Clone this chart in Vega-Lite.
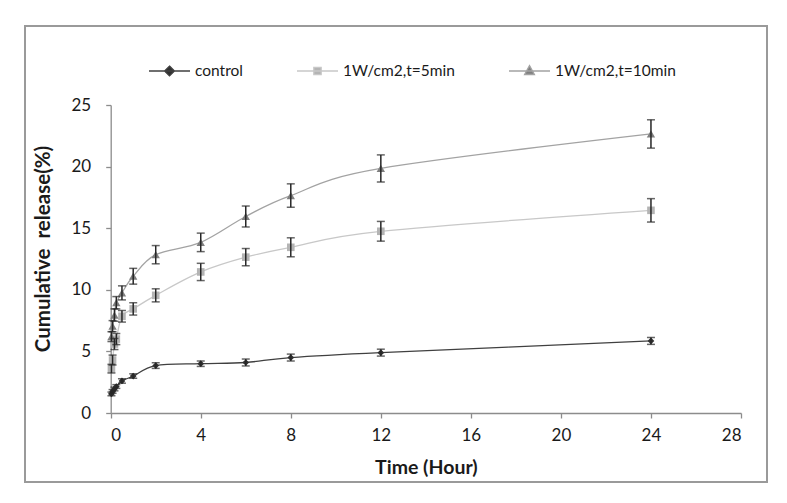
{
  "$schema": "https://vega.github.io/schema/vega-lite/v6.json",
  "width": 742,
  "height": 456,
  "autosize": {"type": "none"},
  "padding": {"left": 25, "top": 26, "right": 20, "bottom": 21},
  "background": "white",
  "config": {
    "view": {"stroke": "#9a9a9a", "strokeWidth": 2},
    "font": "Lato"
  },
  "data": {
    "values": [
      {"s": "control", "t": 0.033, "y": 1.55, "lo": 1.40, "hi": 1.70},
      {"s": "control", "t": 0.083, "y": 1.75, "lo": 1.60, "hi": 1.90},
      {"s": "control", "t": 0.167, "y": 1.95, "lo": 1.80, "hi": 2.10},
      {"s": "control", "t": 0.25, "y": 2.15, "lo": 2.00, "hi": 2.30},
      {"s": "control", "t": 0.5, "y": 2.6, "lo": 2.42, "hi": 2.78},
      {"s": "control", "t": 1, "y": 3.0, "lo": 2.82, "hi": 3.18},
      {"s": "control", "t": 2, "y": 3.85, "lo": 3.62, "hi": 4.08},
      {"s": "control", "t": 4, "y": 4.0, "lo": 3.78, "hi": 4.22},
      {"s": "control", "t": 6, "y": 4.1, "lo": 3.82, "hi": 4.38},
      {"s": "control", "t": 8, "y": 4.5, "lo": 4.22, "hi": 4.78},
      {"s": "control", "t": 12, "y": 4.9, "lo": 4.62, "hi": 5.18},
      {"s": "control", "t": 24, "y": 5.85, "lo": 5.57, "hi": 6.13},
      {"s": "1W/cm2,t=5min", "t": 0.033, "y": 3.6, "lo": 3.25, "hi": 3.95},
      {"s": "1W/cm2,t=5min", "t": 0.083, "y": 4.3, "lo": 3.9, "hi": 4.7},
      {"s": "1W/cm2,t=5min", "t": 0.167, "y": 5.6, "lo": 5.15, "hi": 6.05},
      {"s": "1W/cm2,t=5min", "t": 0.25, "y": 6.0, "lo": 5.55, "hi": 6.45},
      {"s": "1W/cm2,t=5min", "t": 0.5, "y": 7.85, "lo": 7.38, "hi": 8.32},
      {"s": "1W/cm2,t=5min", "t": 1, "y": 8.45, "lo": 7.95, "hi": 8.95},
      {"s": "1W/cm2,t=5min", "t": 2, "y": 9.55, "lo": 9.02, "hi": 10.08},
      {"s": "1W/cm2,t=5min", "t": 4, "y": 11.45, "lo": 10.75, "hi": 12.15},
      {"s": "1W/cm2,t=5min", "t": 6, "y": 12.65, "lo": 11.95, "hi": 13.35},
      {"s": "1W/cm2,t=5min", "t": 8, "y": 13.45, "lo": 12.68, "hi": 14.22},
      {"s": "1W/cm2,t=5min", "t": 12, "y": 14.75, "lo": 13.95, "hi": 15.55},
      {"s": "1W/cm2,t=5min", "t": 24, "y": 16.45, "lo": 15.5, "hi": 17.4},
      {"s": "1W/cm2,t=10min", "t": 0.033, "y": 6.2, "lo": 5.8, "hi": 6.6},
      {"s": "1W/cm2,t=10min", "t": 0.083, "y": 7.05, "lo": 6.6, "hi": 7.5},
      {"s": "1W/cm2,t=10min", "t": 0.167, "y": 7.95, "lo": 7.45, "hi": 8.45},
      {"s": "1W/cm2,t=10min", "t": 0.25, "y": 8.95, "lo": 8.45, "hi": 9.45},
      {"s": "1W/cm2,t=10min", "t": 0.5, "y": 9.75, "lo": 9.18, "hi": 10.32},
      {"s": "1W/cm2,t=10min", "t": 1, "y": 11.1, "lo": 10.46, "hi": 11.74},
      {"s": "1W/cm2,t=10min", "t": 2, "y": 12.85, "lo": 12.11, "hi": 13.59},
      {"s": "1W/cm2,t=10min", "t": 4, "y": 13.85, "lo": 13.1, "hi": 14.6},
      {"s": "1W/cm2,t=10min", "t": 6, "y": 15.95, "lo": 15.1, "hi": 16.8},
      {"s": "1W/cm2,t=10min", "t": 8, "y": 17.65, "lo": 16.7, "hi": 18.6},
      {"s": "1W/cm2,t=10min", "t": 12, "y": 19.85, "lo": 18.75, "hi": 20.95},
      {"s": "1W/cm2,t=10min", "t": 24, "y": 22.65, "lo": 21.5, "hi": 23.8}
    ]
  },
  "layer": [
    {
      "mark": {"type": "line", "interpolate": "cardinal", "tension": 0, "strokeWidth": 1.3},
      "encoding": {
        "x": {
          "field": "t", "type": "quantitative",
          "scale": {"domain": [0, 28], "range": [85.7, 716], "nice": false, "zero": false},
          "axis": {
            "values": [0, 4, 8, 12, 16, 20, 24, 28],
            "offset": -69,
            "grid": false,
            "tickSize": 5,
            "labelPadding": 9,
            "labelFontSize": 17,
            "labelColor": "#1a1a1a",
            "domainColor": "#8c8c8c",
            "domainWidth": 1.3,
            "tickColor": "#8c8c8c",
            "tickWidth": 1.3,
            "title": "Time (Hour)",
            "titleFontSize": 19.5,
            "titleFontWeight": "bold",
            "titleColor": "#1a1a1a",
            "titleBaseline": "middle",
            "titleY": 54
          }
        },
        "y": {
          "field": "y", "type": "quantitative",
          "title": "Cumulative\u00a0 release(%)",
          "scale": {"domain": [0, 25], "range": [387, 79], "nice": false, "zero": false},
          "axis": {
            "values": [0, 5, 10, 15, 20, 25],
            "offset": -85.7,
            "grid": false,
            "tickSize": 5,
            "labelPadding": 15,
            "labelFontSize": 17,
            "labelColor": "#1a1a1a",
            "domainColor": "#8c8c8c",
            "domainWidth": 1.3,
            "tickColor": "#8c8c8c",
            "tickWidth": 1.3,
            "title": "Cumulative\u00a0 release(%)",
            "titleFontSize": 20.5,
            "titleFontWeight": "bold",
            "titleColor": "#1a1a1a",
            "titleBaseline": "middle",
            "titleAlign": "center",
            "titleX": -67.7,
            "titleY": 222.5
          }
        },
        "color": {
          "field": "s", "type": "nominal",
          "scale": {"domain": ["control", "1W/cm2,t=5min", "1W/cm2,t=10min"], "range": ["#404040", "#c8c8c8", "#a3a3a3"]},
          "legend": {
            "orient": "none",
            "legendX": 123,
            "legendY": 23.5,
            "direction": "horizontal",
            "title": null,
            "padding": 0,
            "symbolSize": 1681,
            "symbolStrokeWidth": 1.3,
            "labelFontSize": 15.5,
            "labelColor": "#1a1a1a",
            "labelOffset": 4,
            "columnPadding": 51,
            "encode": {
              "symbols": {
                "update": {
                  "shape": {"signal": "datum.value === 'control' ? 'M-1,0H1M0,-0.24L0.24,0L0,0.24L-0.24,0Z' : datum.value === '1W/cm2,t=5min' ? 'M-1,0H1M-0.18,-0.18H0.18V0.18H-0.18Z' : 'M-1,0H1M0,-0.26L0.24,0.17L-0.24,0.17Z'"},
                  "fill": {"signal": "datum.value === 'control' ? '#303030' : datum.value === '1W/cm2,t=5min' ? '#b4b4b4' : '#7f7f7f'"},
                  "stroke": {"signal": "datum.value === 'control' ? '#404040' : datum.value === '1W/cm2,t=5min' ? '#c8c8c8' : '#a3a3a3'"},
                  "strokeWidth": {"value": 1.3},
                  "size": {"value": 1681},
                  "opacity": {"value": 1}
                }
              }
            }
          }
        }
      }
    },
    {
      "transform": [{"filter": "datum.s === 'control'"}],
      "mark": {"type": "point", "shape": "diamond", "filled": true, "opacity": 1, "color": "#303030", "size": 45},
      "encoding": {
        "x": {"field": "t", "type": "quantitative"},
        "y": {"field": "y", "type": "quantitative", "title": "Cumulative\u00a0 release(%)"}
      }
    },
    {
      "transform": [{"filter": "datum.s === '1W/cm2,t=5min'"}],
      "mark": {"type": "point", "shape": "square", "filled": true, "opacity": 1, "color": "#b4b4b4", "size": 58},
      "encoding": {
        "x": {"field": "t", "type": "quantitative"},
        "y": {"field": "y", "type": "quantitative", "title": "Cumulative\u00a0 release(%)"}
      }
    },
    {
      "transform": [{"filter": "datum.s === '1W/cm2,t=10min'"}],
      "mark": {"type": "point", "shape": "triangle-up", "filled": true, "opacity": 1, "color": "#7f7f7f", "size": 70},
      "encoding": {
        "x": {"field": "t", "type": "quantitative"},
        "y": {"field": "y", "type": "quantitative", "title": "Cumulative\u00a0 release(%)"}
      }
    },
    {
      "mark": {
        "type": "errorbar",
        "ticks": {"size": 8, "thickness": 1.5, "color": "#262626"},
        "rule": {"strokeWidth": 1.5, "color": "#262626"}
      },
      "encoding": {
        "x": {"field": "t", "type": "quantitative"},
        "y": {"field": "lo", "type": "quantitative", "title": "Cumulative\u00a0 release(%)"},
        "y2": {"field": "hi"}
      }
    }
  ]
}
